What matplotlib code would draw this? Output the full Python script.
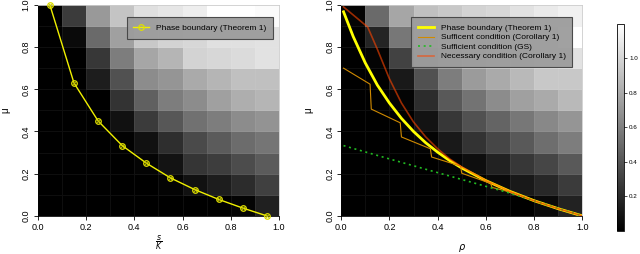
import matplotlib
matplotlib.use("Agg")
import matplotlib.pyplot as plt
import numpy as np

plt.rcParams['font.family'] = ['Liberation Sans', 'DejaVu Sans']
plt.rcParams['mathtext.fontset'] = 'dejavusans'

# --- heatmap values, rows listed from top (mu 0.9-1.0) to bottom (mu 0.0-0.1) ---
left_grid = [
    [0.00, 0.28, 0.72, 0.92, 1.05, 1.08, 1.12, 1.20, 1.20, 1.18],
    [0.00, 0.05, 0.50, 0.75, 0.94, 0.99, 1.01, 1.05, 1.05, 1.06],
    [0.00, 0.00, 0.26, 0.59, 0.78, 0.85, 0.99, 1.01, 1.03, 1.06],
    [0.00, 0.00, 0.14, 0.38, 0.66, 0.70, 0.80, 0.85, 0.90, 0.90],
    [0.00, 0.00, 0.00, 0.24, 0.45, 0.59, 0.66, 0.75, 0.82, 0.85],
    [0.00, 0.00, 0.00, 0.08, 0.28, 0.41, 0.53, 0.59, 0.66, 0.69],
    [0.00, 0.00, 0.00, 0.01, 0.08, 0.22, 0.35, 0.43, 0.51, 0.55],
    [0.00, 0.00, 0.00, 0.00, 0.02, 0.09, 0.25, 0.29, 0.36, 0.43],
    [0.00, 0.00, 0.00, 0.00, 0.00, 0.02, 0.08, 0.14, 0.21, 0.30],
    [0.00, 0.00, 0.00, 0.00, 0.00, 0.00, 0.00, 0.00, 0.02, 0.15],
]
right_grid = [
    [0.02, 0.50, 0.78, 0.90, 0.94, 0.99, 1.01, 1.06, 1.10, 1.13],
    [0.00, 0.17, 0.56, 0.78, 0.90, 0.94, 0.99, 1.01, 1.06, 1.20],
    [0.00, 0.02, 0.31, 0.61, 0.78, 0.90, 0.94, 0.99, 1.03, 1.06],
    [0.00, 0.00, 0.12, 0.38, 0.59, 0.73, 0.80, 0.87, 0.94, 0.94],
    [0.00, 0.00, 0.02, 0.21, 0.42, 0.54, 0.66, 0.75, 0.80, 0.87],
    [0.00, 0.00, 0.00, 0.09, 0.26, 0.38, 0.47, 0.56, 0.64, 0.70],
    [0.00, 0.00, 0.00, 0.02, 0.12, 0.24, 0.33, 0.42, 0.52, 0.59],
    [0.00, 0.00, 0.00, 0.00, 0.02, 0.07, 0.16, 0.26, 0.33, 0.42],
    [0.00, 0.00, 0.00, 0.00, 0.00, 0.00, 0.05, 0.12, 0.19, 0.28],
    [0.00, 0.00, 0.00, 0.00, 0.00, 0.00, 0.00, 0.00, 0.05, 0.16],
]

# --- left panel: phase boundary vs s/K ---
sk = [0.05, 0.15, 0.25, 0.35, 0.45, 0.55, 0.65, 0.75, 0.85, 0.95]
mu_phase_left = [1.0, 0.63, 0.45, 0.333, 0.25, 0.18, 0.125, 0.078, 0.037, 0.0]

# --- right panel curves vs rho ---
rho_phase = [0.01, 0.05, 0.1, 0.15, 0.2, 0.25, 0.3, 0.35, 0.4, 0.45, 0.5,
             0.6, 0.7, 0.8, 0.9, 1.0]
mu_phase = [0.967, 0.85, 0.725, 0.62, 0.535, 0.462, 0.40, 0.347, 0.302, 0.262, 0.227,
            0.167, 0.116, 0.072, 0.034, 0.0]

rho_nec = [0.01, 0.11, 0.15, 0.2, 0.25, 0.3, 0.35, 0.4, 0.45, 0.5,
           0.6, 0.7, 0.8, 0.9, 1.0]
mu_nec = [0.99, 0.895, 0.79, 0.65, 0.535, 0.445, 0.375, 0.318, 0.27, 0.232,
          0.168, 0.116, 0.072, 0.034, 0.0]

rho_suff = [0.01, 0.12, 0.125, 0.245, 0.25, 0.37, 0.375, 0.495, 0.5, 0.62, 0.625,
            0.7, 0.8, 0.9, 1.0]
mu_suff = [0.70, 0.624, 0.506, 0.441, 0.374, 0.318, 0.279, 0.236, 0.202, 0.154, 0.135,
           0.113, 0.071, 0.034, 0.0]

rho_gs = [0.01, 0.2, 0.4, 0.6, 0.7, 0.8, 0.9, 1.0]
mu_gs = [0.333, 0.27, 0.205, 0.14, 0.108, 0.072, 0.035, 0.0]

fig = plt.figure(figsize=(6.4, 2.54), dpi=100)
ax1 = fig.add_axes([0.059, 0.150, 0.377, 0.831])
ax2 = fig.add_axes([0.533, 0.150, 0.377, 0.831])
cax = fig.add_axes([0.964, 0.091, 0.0115, 0.815])

edges = np.linspace(0, 1, 11)


def draw_heat(ax, grid):
    data = np.array(grid)[::-1]
    mesh = ax.pcolormesh(edges, edges, data, cmap='gray', vmin=0, vmax=1.2,
                         edgecolors=(1, 1, 1, 0.06), linewidth=0.5)
    ax.set_xlim(0, 1)
    ax.set_ylim(0, 1)
    ax.set_xticks([0, 0.2, 0.4, 0.6, 0.8, 1.0])
    ax.set_yticks([0, 0.2, 0.4, 0.6, 0.8, 1.0])
    ax.set_xticklabels(['0.0', '0.2', '0.4', '0.6', '0.8', '1.0'], fontsize=6.5)
    ax.set_yticklabels(['0.0', '0.2', '0.4', '0.6', '0.8', '1.0'], fontsize=6.5,
                       rotation=90, va='center')
    ax.tick_params(length=3, width=0.6, pad=2)
    for side in ['top', 'right']:
        ax.spines[side].set_color('#cccccc')
    for sp in ax.spines.values():
        sp.set_linewidth(0.6)
    ax.set_ylabel('μ', fontsize=7)
    ax.yaxis.set_label_coords(-0.115, 0.5)
    return mesh


mesh = draw_heat(ax1, left_grid)
draw_heat(ax2, right_grid)

ax1.plot(sk, mu_phase_left, color='#f0f000', lw=1.0, marker='o', ms=4,
         mfc='none', mec='#e0e000', mew=0.9, label='Phase boundary (Theorem 1)',
         clip_on=False, zorder=5)
# small crosses inside the circles
ax1.plot(sk, mu_phase_left, ls='none', marker='x', ms=2.2, mec='#c8c800', mew=0.6,
         clip_on=False, zorder=6)
ax1.set_xlabel(r'$\frac{s}{K}$', fontsize=8, labelpad=1)

ax2.plot(rho_phase, mu_phase, color='#ffff00', lw=2.0, label='Phase boundary (Theorem 1)')
ax2.plot(rho_suff, mu_suff, color='#d08a00', lw=0.8, label='Sufficent condition (Corollary 1)')
ax2.plot(rho_gs, mu_gs, color='#22bb22', lw=1.2, ls=(0, (1.2, 2.2)),
         label='Sufficient condition (GS)')
ax2.plot(rho_nec, mu_nec, color='#ff4500', lw=1.2, alpha=0.6,
         label='Necessary condition (Corollary 1)')
ax2.set_xlabel(r'$\rho$', fontsize=7, labelpad=7)

for ax, anchor in [(ax1, (0.975, 0.94)), (ax2, (0.958, 0.94))]:
    leg = ax.legend(loc='upper right', bbox_to_anchor=anchor, fontsize=6,
                    fancybox=False, framealpha=0.95, handlelength=1.9,
                    borderpad=0.8, labelspacing=0.2, handletextpad=0.85,
                    borderaxespad=0)
    leg.get_frame().set_facecolor('#9c9c9c')
    leg.get_frame().set_edgecolor('#444444')
    leg.get_frame().set_linewidth(0.8)

cb = fig.colorbar(mesh, cax=cax)
cb.set_ticks([0.2, 0.4, 0.6, 0.8, 1.0])
cb.ax.tick_params(labelsize=4.5, length=2, width=0.5, pad=1.5)
cb.outline.set_linewidth(0.6)

fig.savefig('out.png', dpi=100)
